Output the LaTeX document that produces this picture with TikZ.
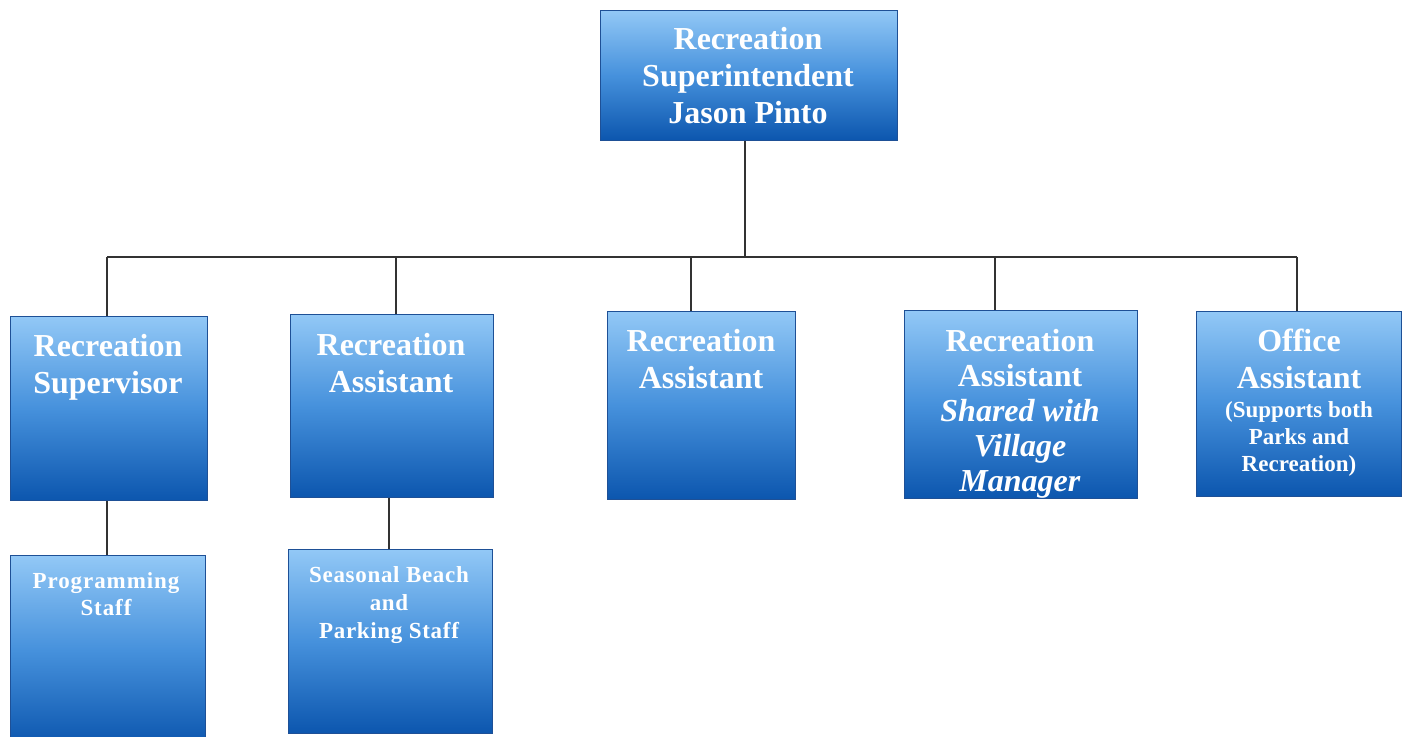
\documentclass[tikz,border=0pt]{standalone}
\usepackage{fontspec}
\setmainfont{Liberation Serif}
\begin{document}
\begin{tikzpicture}[x=0.5pt,y=-0.5pt,
  box/.style={rectangle, inner sep=0pt, draw={rgb,255:red,30;green,80;blue,150}, line width=0.4pt,
    top color={rgb,255:red,146;green,200;blue,246}, bottom color={rgb,255:red,12;green,86;blue,174},
    middle color={rgb,255:red,70;green,145;blue,220}, anchor=north west},
  big/.style={text=white, font=\bfseries\fontsize{16}{18.5}\selectfont, align=center, inner sep=0pt, anchor=north},
  small/.style={text=white, font=\bfseries\fontsize{11.5}{13.5}\selectfont, align=center, inner sep=0pt, anchor=north},
  link/.style={draw={rgb,255:red,50;green,50;blue,50}, line width=0.75pt}
]
\useasboundingbox (0,0) rectangle (1403,737);
\fill[white] (0,0) rectangle (1403,737);

% boxes
\node[box, minimum width=148.5pt, minimum height=65pt] (top) at (600,10) {};
\node[box, minimum width=98.5pt, minimum height=92pt] (sup) at (10,316) {};
\node[box, minimum width=101.5pt, minimum height=91.5pt] (ra1) at (290,314) {};
\node[box, minimum width=94pt, minimum height=94pt] (ra2) at (607,311) {};
\node[box, minimum width=116.5pt, minimum height=94pt] (ra3) at (904,310) {};
\node[box, minimum width=102.5pt, minimum height=92.5pt] (off) at (1196,311) {};
\node[box, minimum width=97.5pt, minimum height=95pt] (prog) at (10,555) {};
\node[box, minimum width=102pt, minimum height=92pt] (seas) at (288,549) {};

% texts
\node[big] (ttop) at (748,27) {Recreation\\Superintendent\\Jason Pinto};
\node[big] (tsup) at (108,334) {Recreation\\Supervisor};
\node[big] (tra2a) at (391,333) {Recreation\\Assistant};
\node[big] (tra2) at (701,329) {Recreation\\Assistant};
\begin{scope}
\clip (ra3.north west) rectangle (ra3.south east);
\node[big, font=\bfseries\fontsize{16}{17.5}\selectfont] (tra3) at (1020,329) {Recreation\\Assistant\\\textit{Shared with}\\\textit{Village}\\\textit{Manager}};
\end{scope}
\node[big] (toff) at (1299,329) {Office\\Assistant};
\node[small] (toff2) at (1299,401) {(Supports both\\Parks and\\Recreation)};
\node[small, font=\bfseries\fontsize{11.5}{13.5}\selectfont\addfontfeatures{LetterSpace=4}] (tprog) at (106,572) {Programming\\Staff};
\node[small, font=\bfseries\fontsize{11.5}{14}\selectfont\addfontfeatures{LetterSpace=3}] (tseas) at (389,566) {Seasonal Beach\\and\\Parking Staff};

% connectors
\coordinate (bus1) at (107,257);
\coordinate (bus2) at (396,257);
\coordinate (bus3) at (691,257);
\coordinate (bus4) at (995,257);
\coordinate (bus5) at (1297,257);
\coordinate (busc) at (745,257);
\draw[link] (bus1) -- (bus5);
\draw[link] (top.south -| busc) -- (busc);
\draw[link] (bus1) -- (bus1 |- sup.north);
\draw[link] (bus2) -- (bus2 |- ra1.north);
\draw[link] (bus3) -- (bus3 |- ra2.north);
\draw[link] (bus4) -- (bus4 |- ra3.north);
\draw[link] (bus5) -- (bus5 |- off.north);
\coordinate (c1) at (107,500);
\coordinate (c2) at (389,497);
\draw[link] (sup.south -| c1) -- (c1 |- prog.north);
\draw[link] (ra1.south -| c2) -- (c2 |- seas.north);
\end{tikzpicture}
\end{document}
